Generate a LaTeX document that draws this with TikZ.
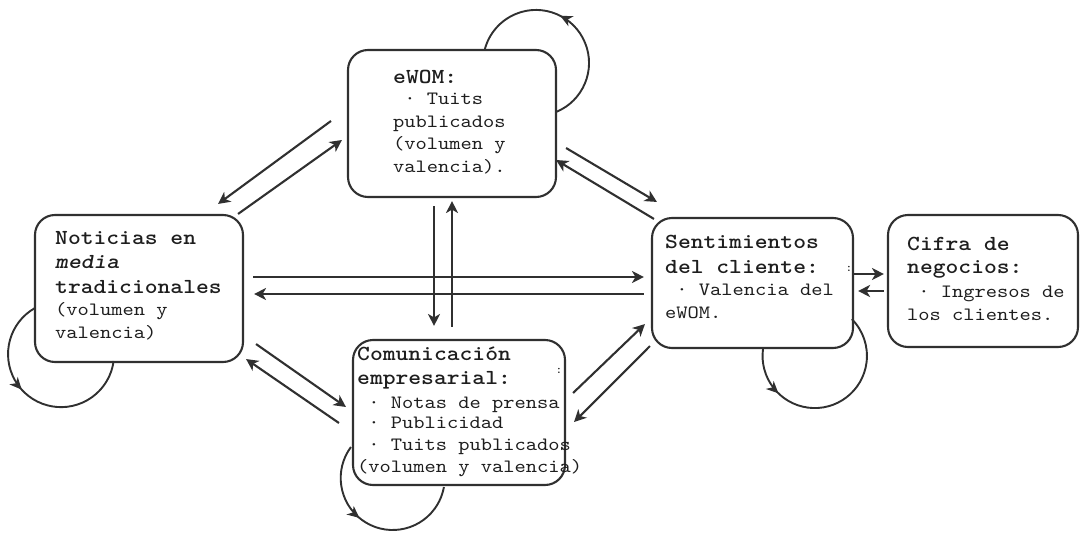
\documentclass[tikz,border=0pt]{standalone}
\usepackage{fontspec}
\setmonofont{lmmono10-regular.otf}[
  BoldFont=lmmonolt10-bold.otf,
  ItalicFont=lmmono10-italic.otf,
  BoldItalicFont=lmmonolt10-boldoblique.otf,
  FakeStretch=1.14]
\usetikzlibrary{arrows.meta,decorations.markings}
\definecolor{ink}{HTML}{303030}
\definecolor{txt}{HTML}{1E1E1E}
\begin{document}
\begin{tikzpicture}[x=1pt,y=1pt,
  box/.style={draw=ink, line width=2.1pt, rounded corners=20pt, fill=white, inner sep=0pt},
  tip/.style={Stealth[length=12pt,width=12pt,inset=3.5pt]},
  link/.style={draw=ink, line width=2.1pt, -{Stealth[length=12pt,width=12pt,inset=3.5pt]}},
  selfloop/.style={draw=ink, line width=1.9pt, postaction={decorate},
    decoration={markings, mark=at position #1 with {\arrow{Stealth[length=12pt,width=11pt,inset=3.5pt]}}}},
  hd/.style={anchor=base west, inner sep=0pt, text=txt, font=\ttfamily\bfseries\fontsize{21.4}{24}\selectfont},
  hdit/.style={hd, font=\ttfamily\bfseries\itshape\fontsize{21.4}{24}\selectfont},
  bd/.style={anchor=base west, inner sep=0pt, text=txt, font=\ttfamily\fontsize{18.8}{22}\selectfont},
  tick/.style={anchor=base, inner sep=0pt, text=txt, font=\ttfamily\fontsize{12}{14}\selectfont}
]
\useasboundingbox (0,0) rectangle (1081,-535);

% boxes
\node[box, minimum width=208pt, minimum height=147pt] (ewom) at (452,-123.5) {};
\node[box, minimum width=208pt, minimum height=147pt] (news) at (139,-288.5) {};
\node[box, minimum width=212pt, minimum height=145pt] (corp) at (459,-412.5) {};
\node[box, minimum width=201pt, minimum height=130pt] (sent) at (752.5,-283) {};
\node[box, minimum width=190pt, minimum height=132pt] (sales) at (983,-281) {};

% box texts
\node[hd] (ewom1) at (393,-83) {eWOM:};
\node[bd] (ewom2) at (393,-104) {\ · Tuits};
\node[bd] (ewom3) at (393,-127) {publicados};
\node[bd] (ewom4) at (393,-149) {(volumen y};
\node[bd] (ewom5) at (393,-172) {valencia).};

\node[hd] (news1) at (55,-244) {Noticias en};
\node[hdit] (news2) at (55,-268) {media};
\node[hd] (news3) at (55,-293) {tradicionales};
\node[bd] (news4) at (55,-315) {(volumen y};
\node[bd] (news5) at (55,-338) {valencia)};

\node[hd] (corp1) at (357,-360) {Comunicación};
\node[hd] (corp2) at (357,-384) {empresarial:};
\node[bd] (corp3) at (357,-408) {\ · Notas de prensa};
\node[bd] (corp4) at (357,-428) {\ · Publicidad};
\node[bd] (corp5) at (357,-450) {\ · Tuits publicados};
\node[bd] (corp6) at (357,-472) {(volumen y valencia)};
\node[tick] (corp7) at (559,-373) {:};

\node[hd] (sent1) at (665,-248) {Sentimientos};
\node[hd] (sent2) at (665,-273) {del cliente:};
\node[bd] (sent3) at (665,-295) {\ · Valencia del};
\node[bd] (sent4) at (665,-318) {eWOM.};
\node[tick] (sent5) at (849,-271) {:};

\node[hd] (sales1) at (907,-250) {Cifra de};
\node[hd] (sales2) at (907,-273) {negocios:};
\node[bd] (sales3) at (907,-297) {\ · Ingresos de};
\node[bd] (sales4) at (907,-320) {los clientes.};

% connectors between the boxes
\draw[link] ([shift={(-16,2.5)}]ewom.west) -- ([shift={(-26,10)}]news.north east);
\draw[link] ([shift={(-6,0)}]news.north east) -- ([shift={(-5,-16.5)}]ewom.west);
\draw[link] ([shift={(9,-24.5)}]ewom.east) -- ([shift={(6,15)}]sent.north west);
\draw[link] ([shift={(3,-2)}]sent.north west) -- ([shift={(-1,-36.5)}]ewom.east);
\draw[link] ([shift={(-18,-8)}]ewom.south) -- ([shift={(-25,13)}]corp.north);
\draw[link] ([shift={(-7,12)}]corp.north) -- ([shift={(0,-3)}]ewom.south);
\draw[link] ([shift={(9,11.5)}]news.east) -- ([shift={(-7,6)}]sent.west);
\draw[link] ([shift={(-7,-11)}]sent.west) -- ([shift={(10,-5.5)}]news.east);
\draw[link] ([shift={(12,19)}]news.south east) -- ([shift={(-6,5.5)}]corp.west);
\draw[link] ([shift={(-13,-10.5)}]corp.west) -- ([shift={(2,4)}]news.south east);
\draw[link] ([shift={(7,19.5)}]corp.east) -- ([shift={(-6,25)}]sent.south west);
\draw[link] ([shift={(-1,3)}]sent.south west) -- ([shift={(8,-9.5)}]corp.east);
\draw[link] ([shift={(-1,9)}]sent.east) -- ([shift={(-3,7)}]sales.west);
\draw[link] ([shift={(-3,-10)}]sales.west) -- ([shift={(4,-8)}]sent.east);

% self loops
\draw[selfloop=0.56] ([shift={(-1,11.5)}]ewom.east) arc[start angle=-67.8, end angle=165.7, radius=53];
\draw[selfloop=0.44] ([shift={(1,-19.5)}]news.west) arc[start angle=119.5, end angle=352.5, radius=53];
\draw[selfloop=0.42] ([shift={(-1,-34.5)}]corp.west) arc[start angle=143.4, end angle=350, radius=52];
\draw[selfloop=0.23] ([shift={(10.5,0)}]sent.south) arc[start angle=172.5, end angle=404.7, radius=52.2];
\end{tikzpicture}
\end{document}
